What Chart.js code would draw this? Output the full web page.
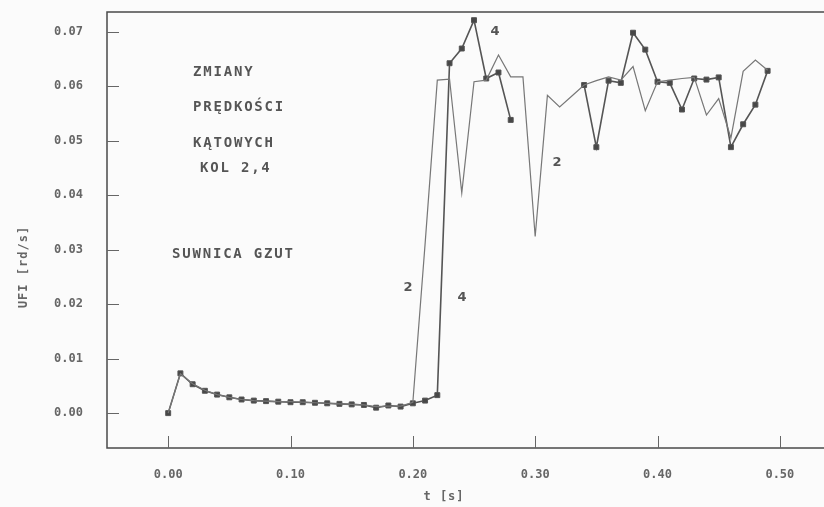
<!DOCTYPE html>
<html lang="pl">
<head>
  <meta charset="UTF-8" />
  <title>Zmiany prędkości kątowych kół 2,4</title>
  <script src="https://cdn.jsdelivr.net/npm/chart.js"></script>
  <style>
    html, body { margin: 0; padding: 0; background: #fbfbfb; }
    #wrap { width: 824px; height: 507px; }
  </style>
</head>
<body>
<div id="wrap"><canvas id="wykres" width="824" height="507"></canvas></div>
<script>
  // czas [s]
  const czas = [
    0.00, 0.01, 0.02, 0.03, 0.04, 0.05, 0.06, 0.07, 0.08, 0.09,
    0.10, 0.11, 0.12, 0.13, 0.14, 0.15, 0.16, 0.17, 0.18, 0.19,
    0.20, 0.21, 0.22, 0.23, 0.24, 0.25, 0.26, 0.27, 0.28, 0.29,
    0.30, 0.31, 0.32, 0.33, 0.34, 0.35, 0.36, 0.37, 0.38, 0.39,
    0.40, 0.41, 0.42, 0.43, 0.44, 0.45, 0.46, 0.47, 0.48, 0.49
  ];

  // koło 2 (linia bez znaczników)
  const kolo2 = [
    0.0000, 0.0072, 0.0054, 0.0042, 0.0034, 0.0029, 0.0025, 0.0023, 0.0022, 0.0021,
    0.0021, 0.0020, 0.0019, 0.0018, 0.0017, 0.0016, 0.0015, 0.0012, 0.0013, 0.0013,
    0.0020, 0.0310, 0.0611, 0.0613, 0.0404, 0.0608, 0.0611, 0.0657, 0.0617, 0.0617,
    0.0324, 0.0583, 0.0562, 0.0582, 0.0602, 0.0610, 0.0617, 0.0611, 0.0636, 0.0555,
    0.0608, 0.0611, 0.0614, 0.0616, 0.0547, 0.0577, 0.0505, 0.0627, 0.0648, 0.0629
  ];

  // koło 4 (kwadratowe znaczniki)
  const kolo4 = [
    0.0000, 0.0073, 0.0053, 0.0041, 0.0034, 0.0029, 0.0025, 0.0023, 0.0022, 0.0021,
    0.0020, 0.0020, 0.0019, 0.0018, 0.0017, 0.0016, 0.0015, 0.0010, 0.0014, 0.0012,
    0.0018, 0.0023, 0.0033, 0.0642, 0.0669, 0.0721, 0.0614, 0.0625, 0.0538, null,
    null,   null,   null,   null,   0.0602, 0.0488, 0.0610, 0.0606, 0.0698, 0.0667,
    0.0608, 0.0606, 0.0557, 0.0614, 0.0612, 0.0616, 0.0488, 0.0530, 0.0566, 0.0628
  ];

  const tickiX = [0.00, 0.10, 0.20, 0.30, 0.40, 0.50];
  const tickiY = [0.00, 0.01, 0.02, 0.03, 0.04, 0.05, 0.06, 0.07];

  const punkty = (wartosci) => czas.map((t, i) => ({ x: t, y: wartosci[i] }));

  const czcionkaMono = '"DejaVu Sans Mono", "Liberation Mono", monospace';

  // ramka, wewnętrzne kreski podziałki i napisy
  const opisy = {
    id: 'opisy',
    afterDraw(chart) {
      const ctx = chart.ctx;
      const a = chart.chartArea;
      const sx = chart.scales.x, sy = chart.scales.y;
      ctx.save();
      ctx.strokeStyle = '#4a4a4a';
      ctx.lineWidth = 1.5;
      ctx.strokeRect(a.left, a.top, chart.width + 10 - a.left, a.bottom - a.top);

      ctx.lineWidth = 1;
      ctx.strokeStyle = '#666';
      ctx.beginPath();
      sy.ticks.forEach(t => {
        const y = Math.round(sy.getPixelForValue(t.value)) + 0.5;
        ctx.moveTo(a.left, y); ctx.lineTo(a.left + 12, y);
      });
      sx.ticks.forEach(t => {
        const x = Math.round(sx.getPixelForValue(t.value)) + 0.5;
        ctx.moveTo(x, a.bottom); ctx.lineTo(x, a.bottom - 12);
      });
      ctx.stroke();

      ctx.fillStyle = '#555';
      ctx.textBaseline = 'middle';
      ctx.textAlign = 'left';
      ctx.font = 'bold 14px ' + czcionkaMono;
      ctx.letterSpacing = '1.8px';
      ctx.fillText('ZMIANY', 193, 72);
      ctx.fillText('PRĘDKOŚCI', 193, 107);
      ctx.fillText('KĄTOWYCH', 193, 143);
      ctx.fillText('KOL 2,4', 200, 168);
      ctx.fillText('SUWNICA GZUT', 172, 254);

      ctx.letterSpacing = '0px';
      ctx.font = 'bold 13px "DejaVu Sans", sans-serif';
      ctx.textAlign = 'center';
      ctx.fillText('2', 408, 288);
      ctx.fillText('4', 462, 298);
      ctx.fillText('4', 495, 32);
      ctx.fillText('2', 557, 163);

      // tytuły osi
      ctx.font = 'bold 12px ' + czcionkaMono;
      ctx.fillStyle = '#666';
      ctx.letterSpacing = '1px';
      ctx.fillText('t [s]', 444, 497);
      ctx.translate(24, 267);
      ctx.rotate(-Math.PI / 2);
      ctx.fillText('UFI [rd/s]', 0, 0);
      ctx.restore();
    }
  };

  new Chart(document.getElementById('wykres'), {
    type: 'line',
    data: {
      datasets: [
        {
          label: '2',
          data: punkty(kolo2),
          borderColor: '#777',
          borderWidth: 1.2,
          pointRadius: 0,
          tension: 0
        },
        {
          label: '4',
          data: punkty(kolo4),
          borderColor: '#555',
          borderWidth: 1.6,
          pointStyle: 'rect',
          pointRadius: 3.5,
          pointBackgroundColor: '#474747',
          pointBorderColor: '#555',
          pointBorderWidth: 1,
          spanGaps: false,
          tension: 0
        }
      ]
    },
    options: {
      responsive: false,
      animation: false,
      layout: { padding: { top: 12, right: 0, left: 0, bottom: 0 } },
      plugins: {
        legend: { display: false },
        tooltip: { enabled: false }
      },
      scales: {
        x: {
          type: 'linear',
          min: -0.05,
          max: 0.532,
          afterBuildTicks: s => { s.ticks = tickiX.map(v => ({ value: v })); },
          afterFit: s => { s.height = 59; s.paddingLeft = 0; s.paddingRight = 0; },
          grid: { display: false, drawTicks: false },
          border: { display: false },
          ticks: {
            padding: 20,
            color: '#666',
            font: { family: czcionkaMono, size: 12, weight: 'bold' },
            maxRotation: 0,
            callback: v => v.toFixed(2)
          }
        },
        y: {
          min: -0.0064,
          max: 0.0736,
          afterBuildTicks: s => { s.ticks = tickiY.map(v => ({ value: v })); },
          afterFit: s => { s.width = 107; s.paddingTop = 0; s.paddingBottom = 0; },
          grid: { display: false, drawTicks: false },
          border: { display: false },
          ticks: {
            padding: 24,
            color: '#666',
            font: { family: czcionkaMono, size: 12, weight: 'bold' },
            callback: v => v.toFixed(2)
          }
        }
      }
    },
    plugins: [opisy]
  });
</script>
</body>
</html>
